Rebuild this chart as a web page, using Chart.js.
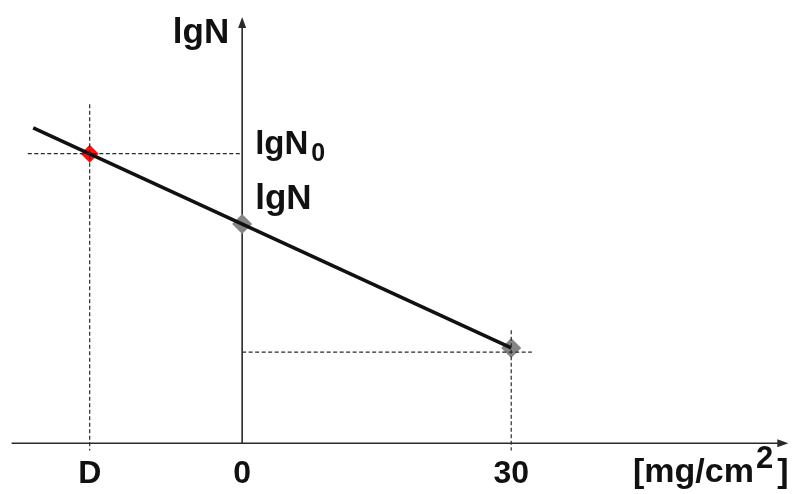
<!DOCTYPE html>
<html>
<head>
<meta charset="utf-8">
<script src="https://cdn.jsdelivr.net/npm/chart.js@4.4.0/dist/chart.umd.min.js"></script>
<style>
    html, body { margin: 0; padding: 0; background: #ffffff; }
    #wrap { width: 800px; height: 494px; }
</style>
</head>
<body>
<div id="wrap"><canvas id="myChart"></canvas></div>
<script>
// valores (x en mg/cm2, y en lgN)
const xTickLabels = ['D', '0', '30'];
const xTickValues = [-17, 0, 30];
const lineX = [-23.3, 30];
const lineY = [7.45, 2.25];
const redX = [-17];
const redY = [6.84];
const grayX = [0, 30];
const grayY = [5.18, 2.25];
const lgN0 = 6.84;      // nivel de la linea punteada izquierda
const lgN30 = 2.15;     // nivel de la linea punteada derecha

function pts(xs, ys) {
    return xs.map(function (x, i) { return { x: x, y: ys[i] }; });
}

/*** ejes con flechas y textos ***/
const ejes = {
    id: 'ejes',
    beforeDatasetsDraw(chart) {
        const ctx = chart.ctx;
        const sx = chart.scales.x;
        const sy = chart.scales.y;
        const x0 = sx.getPixelForValue(0);
        const y0 = sy.getPixelForValue(0);
        const xl = sx.getPixelForValue(-25.7);
        const xr = sx.getPixelForValue(60.9);
        const yt = sy.getPixelForValue(10.07);
        ctx.save();
        ctx.strokeStyle = '#2a2a2a';
        ctx.fillStyle = '#2a2a2a';
        ctx.lineWidth = 1.6;
        ctx.beginPath();
        ctx.moveTo(xl, y0); ctx.lineTo(xr - 4, y0);
        ctx.moveTo(x0, y0); ctx.lineTo(x0, yt + 4);
        ctx.stroke();
        // flecha x
        ctx.beginPath();
        ctx.moveTo(xr, y0); ctx.lineTo(xr - 11, y0 - 4); ctx.lineTo(xr - 11, y0 + 4);
        ctx.closePath(); ctx.fill();
        // flecha y
        ctx.beginPath();
        ctx.moveTo(x0, yt); ctx.lineTo(x0 - 4, yt + 11); ctx.lineTo(x0 + 4, yt + 11);
        ctx.closePath(); ctx.fill();
        ctx.restore();
    },
    afterDraw(chart) {
        const ctx = chart.ctx;
        const sx = chart.scales.x;
        const sy = chart.scales.y;
        const x0 = sx.getPixelForValue(0);
        const y0 = sy.getPixelForValue(0);
        const fnt = function (s) { return 'bold ' + s + 'px "Liberation Sans", Arial, sans-serif'; };
        ctx.save();
        ctx.fillStyle = '#111';
        ctx.textBaseline = 'alphabetic';
        // ticks
        ctx.font = fnt(32);
        ctx.textAlign = 'center';
        xTickLabels.forEach(function (t, i) {
            ctx.fillText(t, sx.getPixelForValue(xTickValues[i]), y0 + 40);
        });
        // titulo eje y
        ctx.font = fnt(35);
        ctx.textAlign = 'right';
        ctx.fillText('lgN', x0 - 13, 43);
        // lgN0
        ctx.textAlign = 'left';
        let xa = x0 + 13;
        let ya = sy.getPixelForValue(lgN0);
        ctx.font = fnt(33);
        ctx.fillText('lgN', xa, ya);
        let w = ctx.measureText('lgN').width;
        ctx.font = fnt(25);
        ctx.fillText('0', xa + w + 3, ya + 7);
        // lgN
        ctx.font = fnt(35);
        ctx.fillText('lgN', xa, ya + 55);
        // unidades
        ctx.font = fnt(34);
        ctx.fillText('[mg/cm', 633, y0 + 39);
        w = ctx.measureText('[mg/cm').width;
        ctx.font = fnt(31);
        ctx.fillText('2', 633 + w + 2, y0 + 25);
        let w2 = ctx.measureText('2').width;
        ctx.font = fnt(34);
        ctx.fillText(']', 633 + w + w2 + 6, y0 + 39);
        ctx.restore();
    }
};

const dash = { showLine: true, borderColor: '#2a2a2a', borderWidth: 1.2, borderDash: [4, 2.5], pointRadius: 0, fill: false };

new Chart(document.getElementById('myChart'), {
    type: 'scatter',
    data: {
        datasets: [
            Object.assign({ data: pts([-17, -17], [8.01, -0.17]) }, dash),
            Object.assign({ data: pts([-23.9, 0], [lgN0, lgN0]) }, dash),
            Object.assign({ data: pts([0, 32.3], [lgN30, lgN30]) }, dash),
            Object.assign({ data: pts([30, 30], [2.67, -0.17]) }, dash),
            {
                data: pts(lineX, lineY),
                showLine: true,
                borderColor: '#111',
                borderWidth: 3.5,
                pointRadius: 0
            },
            {
                data: pts(grayX, grayY),
                pointStyle: 'rectRot',
                pointRadius: 10,
                backgroundColor: '#858585',
                borderColor: '#858585',
                borderWidth: 0
            },
            {
                data: pts(redX, redY),
                pointStyle: 'rectRot',
                pointRadius: 9,
                backgroundColor: '#ff1010',
                borderColor: '#ff1010',
                borderWidth: 0
            }
        ]
    },
    options: {
        responsive: true,
        maintainAspectRatio: false,
        animation: false,
        layout: { padding: 0, autoPadding: false },
        plugins: { legend: { display: false }, tooltip: { enabled: false } },
        scales: {
            x: { type: 'linear', display: false, min: -27, max: 62.2 },
            y: { type: 'linear', display: false, min: -1.2, max: 10.47 }
        }
    },
    plugins: [ejes]
});
</script>
</body>
</html>
